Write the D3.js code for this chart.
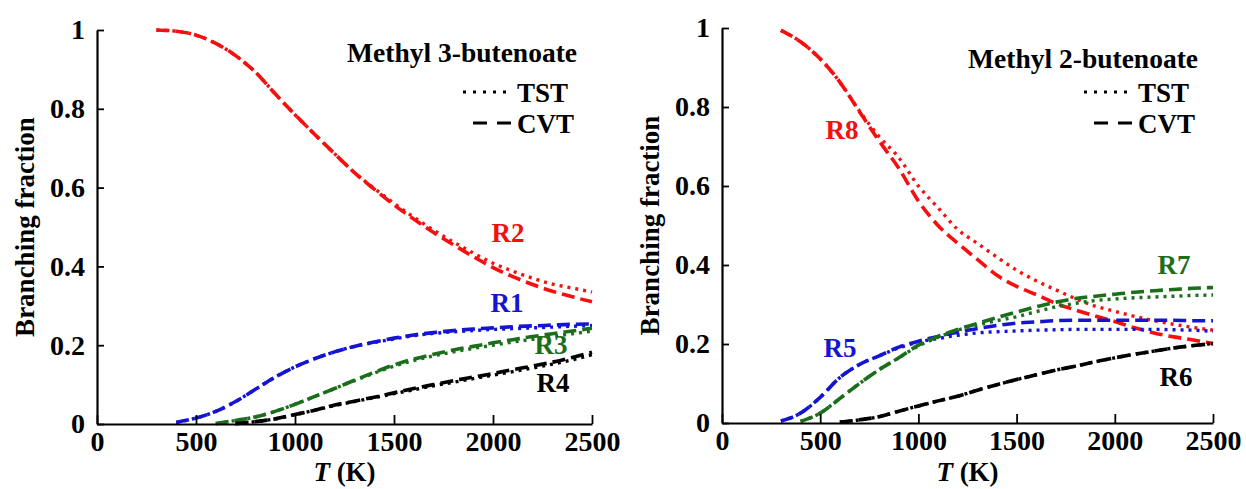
<!DOCTYPE html>
<html lang="en">
<head>
<meta charset="UTF-8">
<title>Branching fractions</title>
<script src="https://d3js.org/d3.v7.min.js"></script>
<style>
  body { margin: 0; background: #fff; }
  svg text { font-family: "Liberation Serif", "DejaVu Serif", serif; font-weight: bold; }
</style>
</head>
<body>
<script>
    const width  = 1246;
    const height = 489;

    // temperature grid (K)
    const temps = [300, 400, 500, 600, 700, 800, 900, 1000, 1100, 1200, 1300, 1400,
                   1500, 1600, 1700, 1800, 1900, 2000, 2100, 2200, 2300, 2400, 2500];
    const xTicks = [0, 500, 1000, 1500, 2000, 2500];
    const yTicks = [0, 0.2, 0.4, 0.6, 0.8, 1];

    // Methyl 3-butenoate
    const r2Cvt = [1.0, 0.997, 0.987, 0.966, 0.935, 0.893, 0.838, 0.785, 0.735, 0.686, 0.638, 0.596,
                   0.556, 0.52, 0.486, 0.455, 0.425, 0.397, 0.374, 0.354, 0.337, 0.323, 0.31];
    const r2Tst = [1.0, 0.997, 0.987, 0.966, 0.935, 0.893, 0.838, 0.785, 0.735, 0.686, 0.638, 0.598,
                   0.56, 0.525, 0.492, 0.462, 0.434, 0.408, 0.388, 0.37, 0.355, 0.345, 0.335];
    const r1Cvt = [null, 0.004, 0.015, 0.032, 0.057, 0.088, 0.119, 0.145, 0.166, 0.183, 0.197, 0.208,
                   0.218, 0.226, 0.232, 0.237, 0.241, 0.244, 0.247, 0.249, 0.251, 0.253, 0.254];
    const r1Tst = [null, 0.004, 0.015, 0.032, 0.057, 0.088, 0.119, 0.145, 0.166, 0.183, 0.197, 0.207,
                   0.216, 0.224, 0.23, 0.234, 0.237, 0.24, 0.242, 0.244, 0.246, 0.248, 0.25];
    const r3Cvt = [null, null, null, 0.001, 0.009, 0.018, 0.032, 0.05, 0.07, 0.09, 0.111, 0.131,
                   0.15, 0.165, 0.177, 0.188, 0.197, 0.206, 0.214, 0.222, 0.229, 0.236, 0.243];
    const r3Tst = [null, null, null, 0.001, 0.009, 0.018, 0.032, 0.05, 0.07, 0.09, 0.11, 0.129,
                   0.147, 0.161, 0.173, 0.183, 0.192, 0.2, 0.208, 0.215, 0.222, 0.229, 0.236];
    const r4Cvt = [null, null, null, null, 0.001, 0.006, 0.013, 0.024, 0.035, 0.048, 0.058, 0.068,
                   0.079, 0.09, 0.1, 0.11, 0.119, 0.128, 0.138, 0.147, 0.157, 0.169, 0.182];
    const r4Tst = [null, null, null, null, 0.001, 0.006, 0.013, 0.024, 0.035, 0.047, 0.057, 0.067,
                   0.077, 0.087, 0.097, 0.106, 0.115, 0.124, 0.133, 0.142, 0.152, 0.163, 0.176];

    // Methyl 2-butenoate
    const r8Cvt = [0.994, 0.965, 0.922, 0.863, 0.788, 0.714, 0.645, 0.562, 0.5, 0.455, 0.414, 0.374,
                   0.346, 0.325, 0.303, 0.286, 0.271, 0.257, 0.241, 0.228, 0.218, 0.21, 0.201];
    const r8Tst = [0.994, 0.965, 0.922, 0.863, 0.79, 0.725, 0.672, 0.6, 0.545, 0.49, 0.455, 0.42,
                   0.387, 0.36, 0.337, 0.315, 0.296, 0.283, 0.27, 0.259, 0.25, 0.242, 0.235];
    const r5Cvt = [0.005, 0.025, 0.065, 0.115, 0.148, 0.17, 0.192, 0.207, 0.219, 0.23, 0.239, 0.247,
                   0.253, 0.256, 0.259, 0.26, 0.26, 0.26, 0.26, 0.26, 0.26, 0.259, 0.259];
    const r5Tst = [0.005, 0.025, 0.065, 0.115, 0.148, 0.17, 0.19, 0.205, 0.214, 0.222, 0.228, 0.231,
                   0.233, 0.235, 0.236, 0.237, 0.237, 0.237, 0.237, 0.237, 0.236, 0.235, 0.232];
    const r7Cvt = [null, 0.004, 0.025, 0.062, 0.1, 0.135, 0.165, 0.197, 0.219, 0.237, 0.252, 0.267,
                   0.281, 0.294, 0.306, 0.315, 0.321, 0.326, 0.331, 0.335, 0.338, 0.341, 0.343];
    const r7Tst = [null, 0.004, 0.025, 0.062, 0.1, 0.135, 0.165, 0.195, 0.217, 0.235, 0.248, 0.259,
                   0.269, 0.282, 0.294, 0.303, 0.31, 0.314, 0.317, 0.319, 0.321, 0.323, 0.324];
    const r6Cvt = [null, null, null, 0.002, 0.008, 0.016, 0.03, 0.043, 0.056, 0.068, 0.083, 0.097,
                   0.11, 0.122, 0.134, 0.144, 0.155, 0.165, 0.174, 0.182, 0.19, 0.196, 0.201];
    const r6Tst = r6Cvt;

    const red = "#f50f0f", blue = "#1414d2", green = "#1c6e1c", black = "#000";

    const panels = [
        {title: "Methyl 3-butenoate", left: 97, right: 592, top: 30, bottom: 424, titleY: 62,
         series: [
            {name: "R2", tst: r2Tst, cvt: r2Cvt, color: red,   lx: 508, ly: 242},
            {name: "R1", tst: r1Tst, cvt: r1Cvt, color: blue,  lx: 507, ly: 312},
            {name: "R3", tst: r3Tst, cvt: r3Cvt, color: green, lx: 551, ly: 354},
            {name: "R4", tst: r4Tst, cvt: r4Cvt, color: black, lx: 553, ly: 392}
         ]},
        {title: "Methyl 2-butenoate", left: 722, right: 1213, top: 28, bottom: 423, titleY: 68,
         series: [
            {name: "R8", tst: r8Tst, cvt: r8Cvt, color: red,   lx: 842, ly: 139},
            {name: "R5", tst: r5Tst, cvt: r5Cvt, color: blue,  lx: 840, ly: 357},
            {name: "R7", tst: r7Tst, cvt: r7Cvt, color: green, lx: 1174, ly: 274},
            {name: "R6", tst: r6Tst, cvt: r6Cvt, color: black, lx: 1176, ly: 386}
         ]}
    ];

    const svg = d3.select("body")
            .append("svg")
            .attr("width", width)
            .attr("height", height);

    const tstDash = "3,5";
    const cvtDash = "13,6";

    panels.forEach(p => {
        const x = d3.scaleLinear().domain([0, 2500]).range([p.left, p.right]);
        const y = d3.scaleLinear().domain([0, 1]).range([p.bottom, p.top]);

        const line = values => d3.line()
                .defined((d, i) => values[i] != null)
                .x(d => x(d))
                .y((d, i) => y(values[i]))
                .curve(d3.curveMonotoneX)(temps);

        // curves: TST dotted under CVT dashed
        p.series.forEach(s => {
            svg.append("path")
                .attr("d", line(s.tst))
                .attr("fill", "none")
                .attr("stroke", s.color)
                .attr("stroke-width", 3.4)
                .attr("stroke-dasharray", tstDash);
            svg.append("path")
                .attr("d", line(s.cvt))
                .attr("fill", "none")
                .attr("stroke", s.color)
                .attr("stroke-width", 3.6)
                .attr("stroke-dasharray", cvtDash);
            svg.append("text")
                .attr("x", s.lx)
                .attr("y", s.ly)
                .attr("text-anchor", "middle")
                .attr("fill", s.color)
                .style("font-size", "27px")
                .text(s.name);
        });

        // axes with inward ticks
        const minorX = d3.range(0, 2501, 100).filter(v => v % 500 != 0);
        const minorY = d3.range(0, 21).map(i => i * 0.05).filter((v, i) => i % 4 != 0);

        const gx = svg.append("g").attr("transform", "translate(0," + p.bottom + ")");
        gx.call(d3.axisBottom(x).tickValues(minorX).tickSize(-5).tickSizeOuter(0).tickFormat(""));
        gx.call(d3.axisBottom(x).tickValues(xTicks).tickSize(-9).tickSizeOuter(0).tickPadding(7)
                  .tickFormat(d3.format("d")));

        const gy = svg.append("g").attr("transform", "translate(" + p.left + ",0)");
        gy.call(d3.axisLeft(y).tickValues(minorY).tickSize(-6).tickSizeOuter(0).tickFormat(""));
        gy.call(d3.axisLeft(y).tickValues(yTicks).tickSize(-7).tickSizeOuter(0).tickPadding(12)
                  .tickFormat(d3.format(".1~f")));

        svg.selectAll(".domain").attr("stroke", "#000").attr("stroke-width", 2.2);
        svg.selectAll(".tick line").attr("stroke", "#000").attr("stroke-width", 1.8);
        svg.selectAll(".tick text")
            .attr("fill", "#000")
            .style("font-size", "28px");

        // axis titles
        const xt = svg.append("text")
                .attr("x", (p.left + p.right) / 2)
                .attr("y", 481)
                .attr("text-anchor", "middle")
                .style("font-size", "27px");
        xt.append("tspan").style("font-style", "italic").text("T");
        xt.append("tspan").text(" (K)");

        svg.append("text")
            .attr("transform", "translate(" + (p.left - 63) + "," + ((p.top + p.bottom) / 2) + ") rotate(-90)")
            .attr("text-anchor", "middle")
            .style("font-size", "27px")
            .text("Branching fraction");

        // legend
        const lx = p.right - 15;
        const g = svg.append("g");
        g.append("text")
            .attr("x", lx)
            .attr("y", p.titleY)
            .attr("text-anchor", "end")
            .style("font-size", "27.5px")
            .text(p.title);

        const textX = lx - 60;
        g.append("line")
            .attr("x1", textX - 54).attr("x2", textX - 4)
            .attr("y1", 92).attr("y2", 92)
            .attr("stroke", "#000").attr("stroke-width", 3)
            .attr("stroke-dasharray", "3,7");
        g.append("text")
            .attr("x", textX).attr("y", 102)
            .style("font-size", "27px")
            .text("TST");
        g.append("line")
            .attr("x1", textX - 44).attr("x2", textX - 4)
            .attr("y1", 123).attr("y2", 123)
            .attr("stroke", "#000").attr("stroke-width", 3)
            .attr("stroke-dasharray", "14,10");
        g.append("text")
            .attr("x", textX).attr("y", 133)
            .style("font-size", "27px")
            .text("CVT");
    });
</script>
</body>
</html>
